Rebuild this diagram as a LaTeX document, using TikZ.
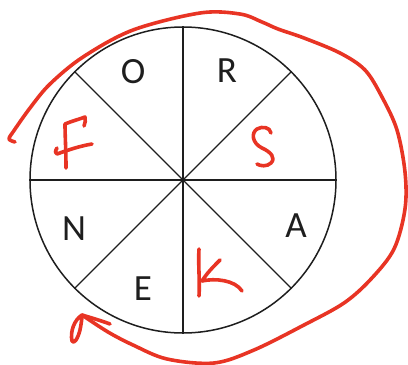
\documentclass[tikz,border=0pt]{standalone}
\usepackage{fontspec}
\setmainfont{Carlito}
\begin{document}
\begin{tikzpicture}[x=1pt,y=-1pt]
\definecolor{pen}{RGB}{232,52,36}
\definecolor{ink}{RGB}{30,30,30}
\tikzset{
  wheel/.style={circle,draw=ink,line width=1.5pt,minimum size=306pt,inner sep=0pt},
  spoke/.style={draw=ink,line width=1.3pt},
  letter/.style={text=ink,font=\fontsize{37}{44}\selectfont,inner sep=0pt},
  hand/.style={draw=pen,line width=3.6pt,line cap=round,line join=round}
}
\useasboundingbox (0,0) rectangle (408,365);
\node[wheel] (c) at (183,180) {};
\draw[spoke] (c.north) -- (c.south);
\draw[spoke] (c.west) -- (c.east);
\draw[spoke] (c.north west) -- (c.south east);
\draw[spoke] (c.north east) -- (c.south west);
\node[letter] (o) at (133,72) {O};
\node[letter] (r) at (227,71) {R};
\node[letter] (n) at (74,229) {N};
\node[letter] (e) at (143,289) {E};
\node[letter] (a) at (296,226) {A};
% handwritten F
\draw[hand] (66,168) .. controls (66,150) and (65,135) .. (65,124)
  .. controls (72,121) and (80,119) .. (85,117) .. controls (86,120) and (85,123) .. (84,126);
\draw[hand] (57,148) .. controls (55,151) and (55,154) .. (57,154)
  .. controls (68,150) and (80,146) .. (92,144);
% handwritten S
\draw[hand] (271,133) .. controls (270,127) and (262,126) .. (257,129)
  .. controls (251,133) and (252,143) .. (262,148)
  .. controls (271,152) and (276,158) .. (271,163)
  .. controls (267,167) and (260,166) .. (257,164);
% handwritten K
\draw[hand] (199,249) .. controls (198,265) and (200,280) .. (199,296);
\draw[hand] (220,260) .. controls (213,267) and (207,273) .. (202,281)
  .. controls (215,278) and (235,280) .. (242,291);
% big arrow
\draw[hand] plot[smooth,tension=0.55] coordinates {
  (15,142) (9,139) (13,132) (30,108) (50,84) (83,57) (133,30) (200,13)
  (240,14) (262,22) (278,29) (304,38) (340,53) (365,70) (382,97) (397,130)
  (405,172) (405,209) (394,249) (371,279) (344,303) (304,325) (254,350)
  (214,363) (167,359) (133,345) (108,332) (82,315)};
\coordinate (tip) at (82,315);
\draw[hand] (tip) .. controls (92,318) and (102,321) .. (110,324);
\draw[hand] (tip) .. controls (74,320) and (70,332) .. (72,341)
  .. controls (74,345) and (78,338) .. (80,330) .. controls (81,325) and (82,319) .. (tip);
\end{tikzpicture}
\end{document}
